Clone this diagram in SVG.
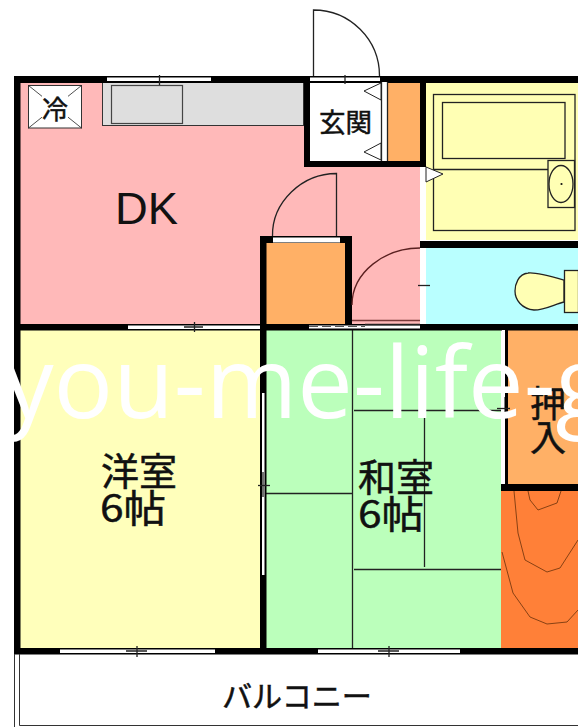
<svg xmlns="http://www.w3.org/2000/svg" width="578" height="727" viewBox="0 0 578 727">
<style>
.w{fill:#000}
.s{fill:#fff}
.l{fill:none;stroke:#222;stroke-width:1.3}
.c{fill:none;stroke:#7a3a10;stroke-width:.9}
.t{font-family:"Noto Sans CJK JP","Liberation Sans",sans-serif;fill:#111;stroke:#111;stroke-width:.5}
.tri{fill:#fff;stroke:#222;stroke-width:1}
</style>
<rect width="578" height="727" fill="#fff"/>
<g id="rooms">
<rect id="dk" x="20" y="82" width="400" height="242" fill="#ffb9b9"/>
<rect id="bath" x="426" y="83" width="152" height="157" fill="#ffffb4"/>
<rect id="toilet" x="426" y="248" width="152" height="76" fill="#b9ffff"/>
<rect id="western" x="20" y="330" width="240" height="318" fill="#ffffbb"/>
<rect id="japanese" x="266" y="330" width="235" height="318" fill="#bbffbb"/>
<rect id="oshiire" x="507" y="330" width="71" height="154" fill="#ffb066"/>
<rect id="tokonoma" x="501" y="491" width="77" height="157" fill="#ff8038"/>
<rect id="closet" x="266" y="243" width="79" height="81" fill="#ffb066"/>
<rect id="shoebox" x="388" y="82" width="32" height="79" fill="#ffb066"/>
<rect id="genkan" x="310" y="82" width="78" height="79" fill="#fff"/>
</g>
<g id="fixtures">
<g id="kitchen"><rect x="102.500" y="82" width="201" height="43.500" fill="#dedede" stroke="#333"/><rect x="111.500" y="85.500" width="71" height="38" fill="#dedede" stroke="#444" stroke-width="1.200"/></g>
<g id="fridge"><rect x="28.500" y="85.500" width="53" height="42.500" fill="#fff" stroke="#333"/><path class="l" d="M28.500 85.500L81.500 128M81.500 85.500L28.500 128" style="stroke-width:.8"/><rect x="42" y="94" width="26" height="27" fill="#fff"/><text class="t" x="55" y="119" font-size="26" text-anchor="middle">冷</text></g>
<g id="tub"><rect class="l" x="433.500" y="94.500" width="141.500" height="136"/><rect class="l" x="442.500" y="102.500" width="122.500" height="56"/><path class="l" d="M433.500 169.500H548"/></g>
<g id="basin"><rect class="l" x="548" y="160.500" width="26.500" height="47" style="fill:#ffffb4"/><ellipse class="l" cx="561" cy="184" rx="12" ry="18.500"/><circle cx="561.500" cy="184" r="1.100" fill="#111"/></g>
<g id="wc"><path class="l" style="fill:#ffffb4" d="M564 280C550 276 536 272 528 273C518 274 515 285 515 291C515 300 522 309 534 310C545 310 555 304 564 302Z"/><rect class="l" style="fill:#ffffb4" x="564.500" y="270.500" width="14" height="42"/></g>
<g id="tatami"><path class="l" d="M352.500 330V648M354 410.500H501M424.500 410V567M354 569.500H501M266 493.500H352"/></g>
<g id="contours"><path class="c" d="M528 491L530 500L538 510L557 503L561 491"/><path class="c" d="M514 491L518 533L525 560L547 572L560 568L578 540"/><path class="c" d="M502 552L513 593L530 617L547 624L567 622L578 610"/></g>
</g>
<g id="walls">
<rect class="w" x="14" y="76" width="564" height="7"/>
<rect class="w" x="14" y="76" width="6.500" height="578"/>
<rect class="w" x="14" y="324" width="564" height="6.500"/>
<rect class="w" x="14" y="648" width="564" height="6.500"/>
<rect class="w" x="304" y="76" width="6" height="91"/>
<rect class="w" x="304" y="161" width="122" height="6"/>
<rect class="w" x="420" y="76" width="6" height="91"/>
<rect class="w" x="420" y="241" width="158" height="7"/>
<rect class="w" x="260" y="236" width="6.500" height="412"/>
<rect class="w" x="260" y="236" width="92" height="7"/>
<rect class="w" x="345" y="236" width="7" height="88"/>
<rect class="w" x="501" y="484" width="77" height="7"/>
<rect class="w" x="505" y="330" width="3" height="154"/>
</g>
<g id="openings">
<rect class="s" x="107" y="77.500" width="104" height="3.500"/><path class="l" d="M159.500 75V85"/>
<rect class="s" x="128" y="325.500" width="132" height="3.500"/><path class="l" d="M184 327H203M194.500 322V332"/>
<rect class="s" x="310" y="77.500" width="70" height="3.500"/><path class="l" d="M345 75V84"/>
<rect class="s" x="382" y="82" width="5" height="79"/><path class="l" d="M381.500 82V161M387.500 82V161"/>
<rect class="s" x="421" y="167" width="5" height="74"/>
<rect class="s" x="421" y="248" width="5" height="76"/><path class="l" d="M418 285.500H430"/>
<rect class="s" x="273" y="237.500" width="67" height="5"/>
<rect class="s" x="309" y="325.500" width="111" height="3"/><path d="M309 326.500H365" stroke="#555" stroke-dasharray="9 4" fill="none"/><path class="l" d="M352 320.500H420" style="stroke:#7a3a3a"/><path class="l" d="M365 324.500H420"/>
<rect class="s" x="262" y="393" width="2.500" height="182"/><path class="l" d="M258 485.500H270"/><path class="l" d="M263 472V497"/>
<rect class="s" x="502" y="330" width="3" height="154"/><rect class="w" x="504.500" y="397" width="1.500" height="20"/><path class="l" d="M497 408.500H510"/>
<rect class="s" x="60" y="649.500" width="155" height="3.500"/><path class="l" d="M126 651H147M137 646V657"/>
<rect class="s" x="318" y="649.500" width="142" height="3.500"/><path class="l" d="M378 651H399M389 646V657"/>
</g>
<g id="connectors">
<path class="l" d="M313.500 76V10A66 66 0 0 1 379.500 76"/>
<path class="l" d="M336.500 236V173.500C302 173.500 272 202 272.500 236"/>
<path class="l" d="M420 248C385 248 352 272 352 305" style="stroke:#5a2020"/>
<path class="tri" d="M381 83L364 91L381 100Z"/>
<path class="tri" d="M381 143L364 152L381 160Z"/>
<path class="tri" d="M426 167L443 174L426 182Z"/>
</g>
<g id="balcony">
<path fill="none" stroke="#333" d="M14.500 654V727M19.500 654V725.500H578"/>
<text class="t" x="222" y="707" font-size="30" textLength="150" lengthAdjust="spacingAndGlyphs">バルコニー</text>
</g>
<g id="labels">
<text x="115" y="224" font-family="Liberation Sans,sans-serif" font-size="44" fill="#111" textLength="63" lengthAdjust="spacingAndGlyphs">DK</text>
<text class="t" x="319" y="132" font-size="26.500">玄関</text>
<text class="t" x="101" y="485" font-size="38">洋室</text>
<text class="t" x="100" y="522" font-size="38" textLength="66" lengthAdjust="spacingAndGlyphs">6帖</text>
<text class="t" x="358" y="491" font-size="38">和室</text>
<text class="t" x="358" y="528" font-size="38" textLength="66" lengthAdjust="spacingAndGlyphs">6帖</text>
<text class="t" x="530" y="417" font-size="36">押</text>
<text class="t" x="530" y="451" font-size="36">入</text>
</g>
<text id="watermark" x="4" y="418" font-family="Open Sans,sans-serif" font-weight="400" font-size="99" fill="#fff">you-me-life-g</text>
</svg>
